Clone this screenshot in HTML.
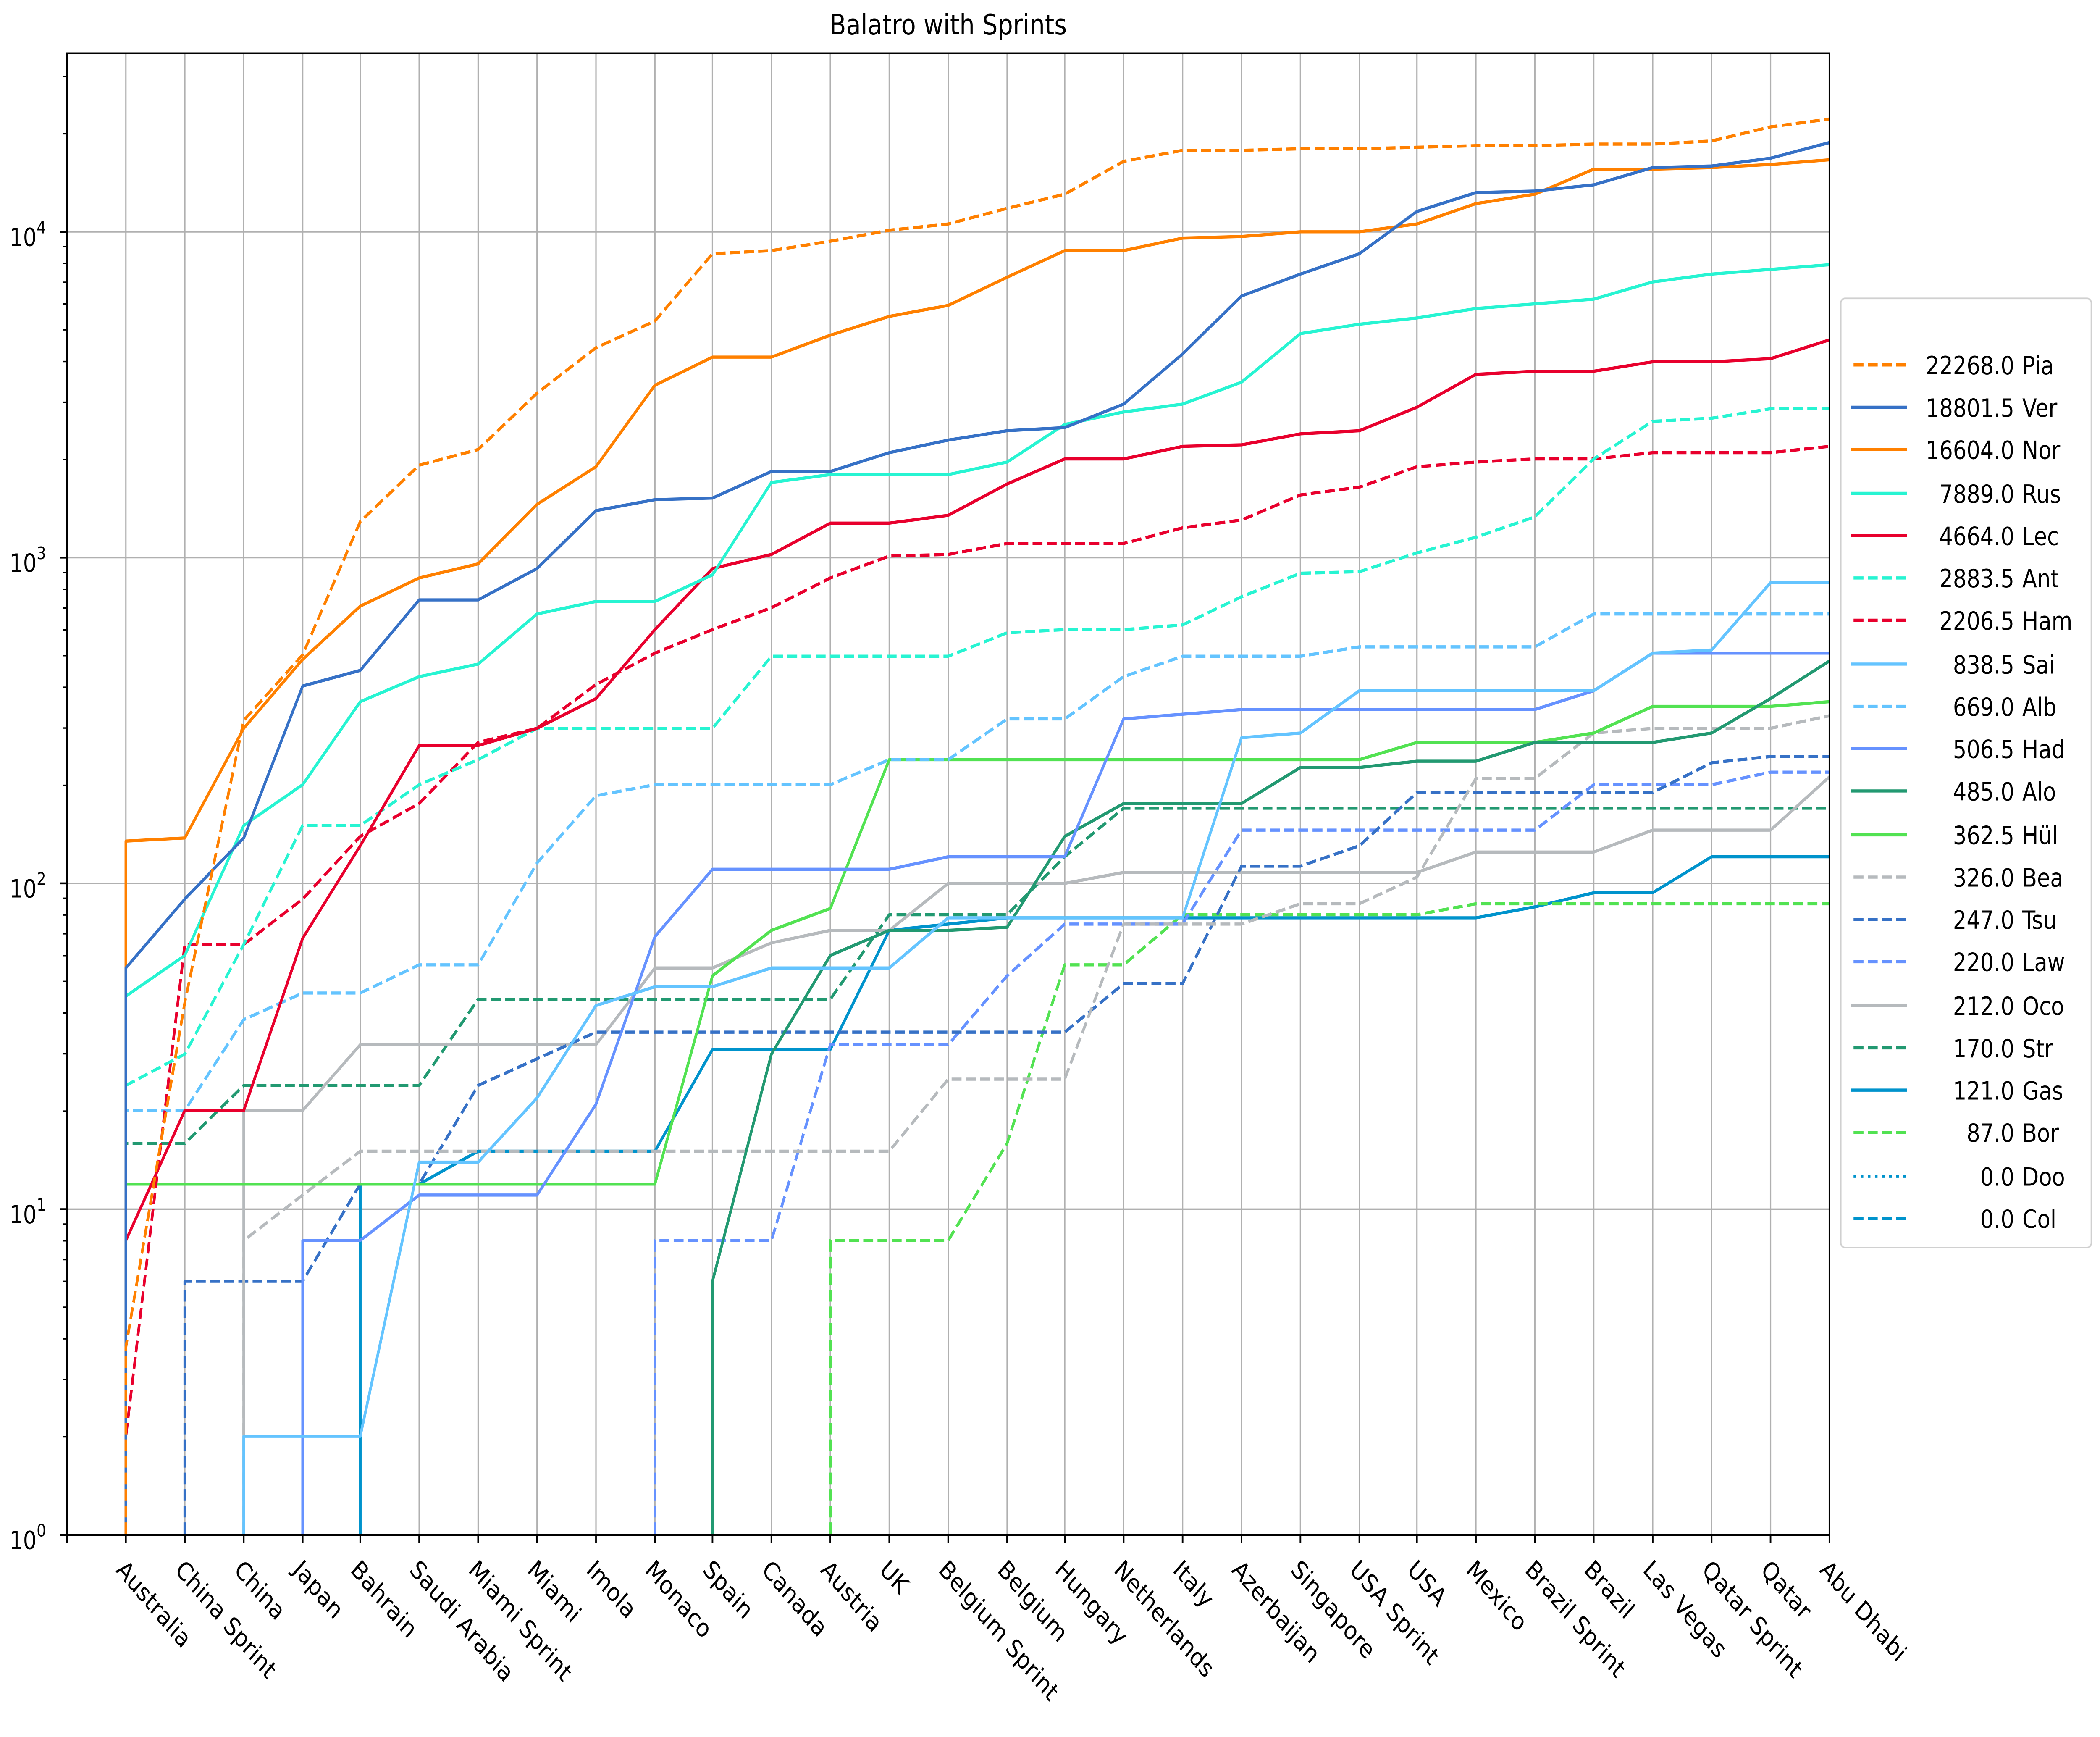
<!DOCTYPE html>
<html><head><meta charset="utf-8"><style>
html,body{margin:0;padding:0;background:#fff;width:100%;height:100%;overflow:hidden;}
svg{display:block;width:100vw;height:100vh;}
text{font-family:"DejaVu Sans","Liberation Sans",sans-serif;fill:#000;}
.g{stroke:#b0b0b0;stroke-width:1;fill:none;}
.s{fill:none;stroke-width:2;stroke-linejoin:round;}
.d{stroke-dasharray:7.4 3.2;}
</style></head><body>
<svg viewBox="0 0 1568 1109" preserveAspectRatio="none" xmlns="http://www.w3.org/2000/svg">
<rect x="0" y="0" width="1568" height="1109" fill="#fff"/>
<defs><clipPath id="c"><rect x="50" y="34" width="1316" height="946"/></clipPath></defs>
<text x="708" y="22" font-size="18" text-anchor="middle">Balatro with Sprints</text>
<path class="g" d="M94 34V980M138 34V980M182 34V980M226 34V980M269 34V980M313 34V980M357 34V980M401 34V980M445 34V980M489 34V980M532 34V980M576 34V980M620 34V980M664 34V980M708 34V980M752 34V980M795 34V980M839 34V980M883 34V980M927 34V980M971 34V980M1015 34V980M1058 34V980M1102 34V980M1146 34V980M1190 34V980M1234 34V980M1278 34V980M1322 34V980M50 148H1366M50 356H1366M50 564H1366M50 772H1366"/>
<g clip-path="url(#c)">
<polyline class="s" stroke="#0093cc" points="269,990 269,756 313,756 357,735 489,735 532,670 620,670 664,594 708,590 752,586 1102,586 1146,579 1190,570 1234,570 1278,547 1366,547"/>
<polyline class="s d" stroke="#52e252" points="620,990 620,792 708,792 752,730 795,616 839,616 883,584 1058,584 1102,577 1366,577"/>
<polyline class="s d" stroke="#229971" points="94,990 94,730 138,730 182,693 313,693 357,638 620,638 664,584 752,584 795,547 839,516 1366,516"/>
<polyline class="s" stroke="#b6babd" points="182,990 182,709 226,709 269,667 445,667 489,618 532,618 576,602 620,594 664,594 708,564 795,564 839,557 1058,557 1102,544 1190,544 1234,530 1322,530 1366,496"/>
<polyline class="s d" stroke="#6692ff" points="489,990 489,792 576,792 620,667 708,667 752,623 795,590 883,590 927,530 1146,530 1190,501 1278,501 1322,493 1366,493"/>
<polyline class="s d" stroke="#3671c6" points="138,990 138,818 226,818 269,756 313,756 357,693 401,676 445,659 795,659 839,628 883,628 927,553 971,553 1015,540 1058,506 1234,506 1278,487 1322,483 1366,483"/>
<polyline class="s d" stroke="#b6babd" points="182,990 182,792 226,763 269,735 664,735 708,689 795,689 839,590 927,590 971,577 1015,577 1058,560 1102,497 1146,497 1190,468 1234,465 1322,465 1366,457"/>
<polyline class="s" stroke="#52e252" points="94,990 94,756 489,756 532,623 576,594 620,580 664,485 1015,485 1058,474 1146,474 1190,468 1234,451 1322,451 1366,448"/>
<polyline class="s" stroke="#229971" points="532,990 532,818 576,673 620,610 664,594 708,594 752,592 795,534 839,513 883,513 927,513 971,490 1015,490 1058,486 1102,486 1146,474 1190,474 1234,474 1278,468 1322,446 1366,422"/>
<polyline class="s" stroke="#6692ff" points="226,990 226,792 269,792 313,763 357,763 401,763 445,705 489,598 532,555 576,555 620,555 664,555 708,547 752,547 795,547 839,459 883,456 927,453 971,453 1015,453 1058,453 1102,453 1146,453 1190,441 1234,417 1278,417 1322,417 1366,417"/>
<polyline class="s d" stroke="#64c4ff" points="94,990 94,709 138,709 182,651 226,634 269,634 313,616 357,616 401,551 445,508 489,501 532,501 576,501 620,501 664,485 708,485 752,459 795,459 839,432 883,419 927,419 971,419 1015,413 1058,413 1102,413 1146,413 1190,392 1234,392 1278,392 1322,392 1366,392"/>
<polyline class="s" stroke="#64c4ff" points="182,990 182,917 226,917 269,917 313,742 357,742 401,701 445,642 489,630 532,630 576,618 620,618 664,618 708,586 752,586 795,586 839,586 883,586 927,471 971,468 1015,441 1058,441 1102,441 1146,441 1190,441 1234,417 1278,415 1322,372 1366,372"/>
<polyline class="s d" stroke="#e8002d" points="94,990 94,917 138,603 182,603 226,574 269,534 313,513 357,474 401,465 445,437 489,417 532,402 576,388 620,369 664,355 708,354 752,347 795,347 839,347 883,337 927,332 971,316 1015,311 1058,298 1102,295 1146,293 1190,293 1234,289 1278,289 1322,289 1366,285"/>
<polyline class="s d" stroke="#27f4d2" points="94,990 94,693 138,673 182,603 226,527 269,527 313,501 357,485 401,465 445,465 489,465 532,465 576,419 620,419 664,419 708,419 752,404 795,402 839,402 883,399 927,381 971,366 1015,365 1058,353 1102,343 1146,330 1190,293 1234,269 1278,267 1322,261 1366,261"/>
<polyline class="s" stroke="#e8002d" points="94,990 94,792 138,709 182,709 226,599 269,540 313,476 357,476 401,465 445,446 489,402 532,363 576,354 620,334 664,334 708,329 752,309 795,293 839,293 883,285 927,284 971,277 1015,275 1058,260 1102,239 1146,237 1190,237 1234,231 1278,231 1322,229 1366,217"/>
<polyline class="s" stroke="#27f4d2" points="94,990 94,636 138,610 182,527 226,501 269,448 313,432 357,424 401,392 445,384 489,384 532,367 576,308 620,303 664,303 708,303 752,295 795,271 839,263 883,258 927,244 971,213 1015,207 1058,203 1102,197 1146,194 1190,191 1234,180 1278,175 1322,172 1366,169"/>
<polyline class="s" stroke="#ff8000" points="94,990 94,537 138,535 182,465 226,421 269,387 313,369 357,360 401,322 445,298 489,246 532,228 576,228 620,214 664,202 708,195 752,177 795,160 839,160 883,152 927,151 971,148 1015,148 1058,143 1102,130 1146,124 1190,108 1234,108 1278,107 1322,105 1366,102"/>
<polyline class="s" stroke="#3671c6" points="94,990 94,618 138,574 182,535 226,438 269,428 313,383 357,383 401,363 445,326 489,319 532,318 576,301 620,301 664,289 708,281 752,275 795,273 839,258 883,226 927,189 971,175 1015,162 1058,135 1102,123 1146,122 1190,118 1234,107 1278,106 1322,101 1366,91"/>
<polyline class="s d" stroke="#ff8000" points="94,990 94,860 138,640 182,460 226,418 269,333 313,297 357,287 401,251 445,222 489,205 532,162 576,160 620,154 664,147 708,143 752,133 795,124 839,103 883,96 927,96 971,95 1015,95 1058,94 1102,93 1146,93 1190,92 1234,92 1278,90 1322,81 1366,76"/>
</g>
<rect x="50" y="34" width="1316" height="946" fill="none" stroke="#000" stroke-width="1.2"/>
<path stroke="#000" stroke-width="1.2" fill="none" d="M45 148H50M45 356H50M45 564H50M45 772H50M45 980H50
M50 980V985M94 980V985M138 980V985M182 980V985M226 980V985M269 980V985M313 980V985M357 980V985M401 980V985M445 980V985M489 980V985M532 980V985M576 980V985M620 980V985M664 980V985M708 980V985M752 980V985M795 980V985M839 980V985M883 980V985M927 980V985M971 980V985M1015 980V985M1058 980V985M1102 980V985M1146 980V985M1190 980V985M1234 980V985M1278 980V985M1322 980V985M1366 980V985"/>
<path stroke="#000" stroke-width="0.9" fill="none" d="M47 917.4H50M47 880.8H50M47 854.8H50M47 834.6H50M47 818.1H50M47 804.2H50M47 792.2H50M47 781.5H50
M47 709.4H50M47 672.8H50M47 646.8H50M47 626.6H50M47 610.1H50M47 596.2H50M47 584.2H50M47 573.5H50
M47 501.4H50M47 464.8H50M47 438.8H50M47 418.6H50M47 402.1H50M47 388.2H50M47 376.2H50M47 365.5H50
M47 293.4H50M47 256.8H50M47 230.8H50M47 210.6H50M47 194.1H50M47 180.2H50M47 168.2H50M47 157.5H50
M47 85.4H50M47 48.8H50"/>
<g font-size="16">
<text x="7" y="157">10<tspan font-size="11" dy="-8">4</tspan></text>
<text x="7" y="365">10<tspan font-size="11" dy="-8">3</tspan></text>
<text x="7" y="573">10<tspan font-size="11" dy="-8">2</tspan></text>
<text x="7" y="781">10<tspan font-size="11" dy="-8">1</tspan></text>
<text x="7" y="989">10<tspan font-size="11" dy="-8">0</tspan></text>
</g>
<g font-size="16">
<text transform="translate(86,1003) rotate(45)">Australia</text>
<text transform="translate(130,1003) rotate(45)">China Sprint</text>
<text transform="translate(174,1003) rotate(45)">China</text>
<text transform="translate(218,1003) rotate(45)">Japan</text>
<text transform="translate(261,1003) rotate(45)">Bahrain</text>
<text transform="translate(305,1003) rotate(45)">Saudi Arabia</text>
<text transform="translate(349,1003) rotate(45)">Miami Sprint</text>
<text transform="translate(393,1003) rotate(45)">Miami</text>
<text transform="translate(437,1003) rotate(45)">Imola</text>
<text transform="translate(481,1003) rotate(45)">Monaco</text>
<text transform="translate(524,1003) rotate(45)">Spain</text>
<text transform="translate(568,1003) rotate(45)">Canada</text>
<text transform="translate(612,1003) rotate(45)">Austria</text>
<text transform="translate(656,1003) rotate(45)">UK</text>
<text transform="translate(700,1003) rotate(45)">Belgium Sprint</text>
<text transform="translate(744,1003) rotate(45)">Belgium</text>
<text transform="translate(787,1003) rotate(45)">Hungary</text>
<text transform="translate(831,1003) rotate(45)">Netherlands</text>
<text transform="translate(875,1003) rotate(45)">Italy</text>
<text transform="translate(919,1003) rotate(45)">Azerbaijan</text>
<text transform="translate(963,1003) rotate(45)">Singapore</text>
<text transform="translate(1007,1003) rotate(45)">USA Sprint</text>
<text transform="translate(1050,1003) rotate(45)">USA</text>
<text transform="translate(1094,1003) rotate(45)">Mexico</text>
<text transform="translate(1138,1003) rotate(45)">Brazil Sprint</text>
<text transform="translate(1182,1003) rotate(45)">Brazil</text>
<text transform="translate(1226,1003) rotate(45)">Las Vegas</text>
<text transform="translate(1270,1003) rotate(45)">Qatar Sprint</text>
<text transform="translate(1314,1003) rotate(45)">Qatar</text>
<text transform="translate(1358,1003) rotate(45)">Abu Dhabi</text>
</g>
<rect x="1374.5" y="190.5" width="187" height="606" rx="3" fill="#fff" stroke="#d0d0d0" stroke-width="1"/>
<g stroke-width="2" fill="none">
<path stroke="#ff8000" class="d" d="M1384 233H1424"/>
<path stroke="#3671c6" d="M1382 260H1424"/>
<path stroke="#ff8000" d="M1382 287H1424"/>
<path stroke="#27f4d2" d="M1382 315H1424"/>
<path stroke="#e8002d" d="M1382 342H1424"/>
<path stroke="#27f4d2" class="d" d="M1384 369H1424"/>
<path stroke="#e8002d" class="d" d="M1384 396H1424"/>
<path stroke="#64c4ff" d="M1382 424H1424"/>
<path stroke="#64c4ff" class="d" d="M1384 451H1424"/>
<path stroke="#6692ff" d="M1382 478H1424"/>
<path stroke="#229971" d="M1382 505H1424"/>
<path stroke="#52e252" d="M1382 533H1424"/>
<path stroke="#b6babd" class="d" d="M1384 560H1424"/>
<path stroke="#3671c6" class="d" d="M1384 587H1424"/>
<path stroke="#6692ff" class="d" d="M1384 614H1424"/>
<path stroke="#b6babd" d="M1382 642H1424"/>
<path stroke="#229971" class="d" d="M1384 669H1424"/>
<path stroke="#0093cc" d="M1382 696H1424"/>
<path stroke="#52e252" class="d" d="M1384 723H1424"/>
<path stroke="#0093cc" stroke-dasharray="2 3.3" d="M1384 751H1424"/>
<path stroke="#0093cc" class="d" d="M1384 778H1424"/>
</g>
<g font-size="16">
<g text-anchor="end">
<text x="1504" y="239">22268.0</text>
<text x="1504" y="266">18801.5</text>
<text x="1504" y="293">16604.0</text>
<text x="1504" y="321">7889.0</text>
<text x="1504" y="348">4664.0</text>
<text x="1504" y="375">2883.5</text>
<text x="1504" y="402">2206.5</text>
<text x="1504" y="430">838.5</text>
<text x="1504" y="457">669.0</text>
<text x="1504" y="484">506.5</text>
<text x="1504" y="511">485.0</text>
<text x="1504" y="539">362.5</text>
<text x="1504" y="566">326.0</text>
<text x="1504" y="593">247.0</text>
<text x="1504" y="620">220.0</text>
<text x="1504" y="648">212.0</text>
<text x="1504" y="675">170.0</text>
<text x="1504" y="702">121.0</text>
<text x="1504" y="729">87.0</text>
<text x="1504" y="757">0.0</text>
<text x="1504" y="784">0.0</text>
</g>
<text x="1510" y="239">Pia</text>
<text x="1510" y="266">Ver</text>
<text x="1510" y="293">Nor</text>
<text x="1510" y="321">Rus</text>
<text x="1510" y="348">Lec</text>
<text x="1510" y="375">Ant</text>
<text x="1510" y="402">Ham</text>
<text x="1510" y="430">Sai</text>
<text x="1510" y="457">Alb</text>
<text x="1510" y="484">Had</text>
<text x="1510" y="511">Alo</text>
<text x="1510" y="539">Hül</text>
<text x="1510" y="566">Bea</text>
<text x="1510" y="593">Tsu</text>
<text x="1510" y="620">Law</text>
<text x="1510" y="648">Oco</text>
<text x="1510" y="675">Str</text>
<text x="1510" y="702">Gas</text>
<text x="1510" y="729">Bor</text>
<text x="1510" y="757">Doo</text>
<text x="1510" y="784">Col</text>
</g>
</svg>
</body></html>
